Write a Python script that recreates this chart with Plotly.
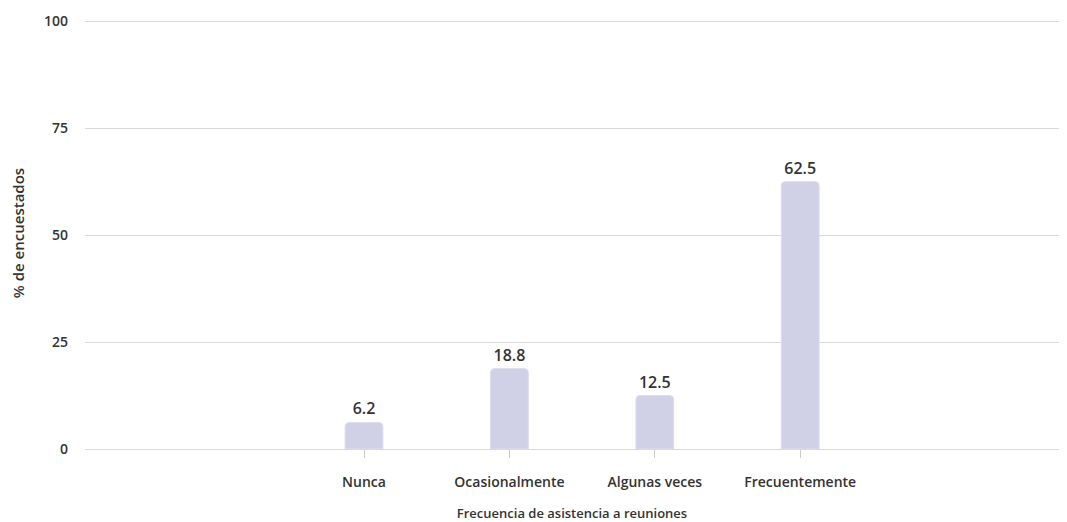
import plotly.graph_objects as go

categories = ["Nunca", "Ocasionalmente", "Algunas veces", "Frecuentemente"]
values = [6.2, 18.8, 12.5, 62.5]
y_ticks = [0, 25, 50, 75, 100]

FONT = "Open Sans"
TXT = "#333333"
W = 600

fig = go.Figure(
    go.Bar(
        x=categories,
        y=values,
        text=[f"{v:.1f}" for v in values],
        textposition="outside",
        textfont=dict(family=FONT, size=16, color=TXT, weight=W),
        cliponaxis=False,
        width=0.26,
        marker=dict(color="#d0d1e6", cornerradius=4, line=dict(color="#dcdded", width=1)),
        hoverinfo="x+y",
    )
)

fig.update_layout(
    width=1051,
    height=514,
    margin=dict(l=77, r=0, t=9, b=73, autoexpand=False),
    paper_bgcolor="white",
    plot_bgcolor="white",
    font=dict(family=FONT, size=14, color=TXT, weight=W),
    showlegend=False,
)

fig.update_xaxes(
    type="category",
    range=[-1.919, 4.78],
    showgrid=False,
    showline=False,
    zeroline=False,
    ticks="outside",
    ticklen=8,
    tickcolor="#cccccc",
    tickwidth=1,
    ticklabelstandoff=12,
    automargin=True,
    tickfont=dict(family=FONT, size=14, color=TXT, weight=W),
    title=dict(text="Frecuencia de asistencia a reuniones", font=dict(family=FONT, size=13, color=TXT, weight=W), standoff=23),
)

fig.update_yaxes(
    range=[0, 101],
    tickvals=y_ticks,
    showgrid=True,
    gridcolor="#d9d9d9",
    gridwidth=1,
    zeroline=True,
    zerolinecolor="#d9d9d9",
    zerolinewidth=1,
    showline=False,
    ticks="",
    ticklabelstandoff=16,
    automargin=False,
    tickfont=dict(family=FONT, size=14, color=TXT, weight=W),
    title=dict(text="% de encuestados", font=dict(family=FONT, size=15, color=TXT, weight=W), standoff=30),
)

fig.write_html("out.html")
